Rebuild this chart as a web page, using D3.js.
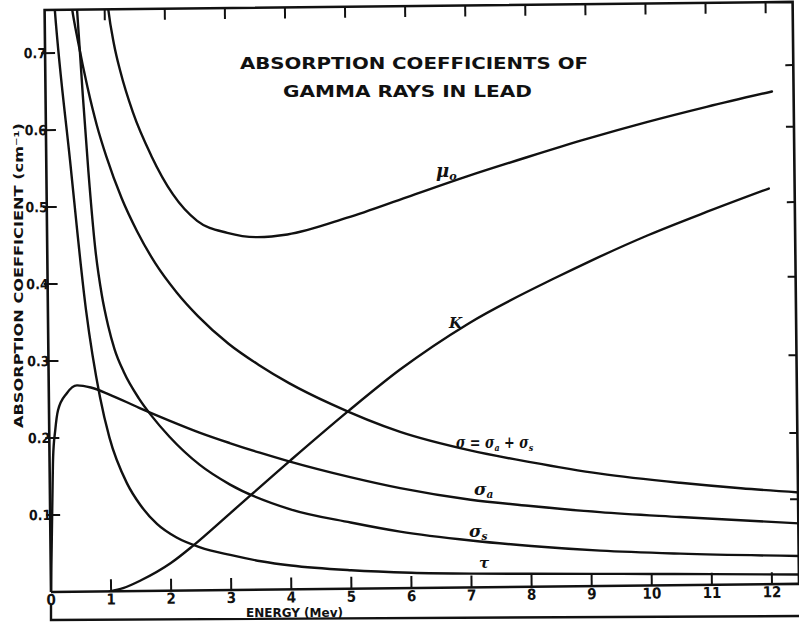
<!DOCTYPE html>
<html>
<head>
<meta charset="utf-8">
<script src="https://cdn.jsdelivr.net/npm/d3@7"></script>
<style>
  html, body { margin: 0; padding: 0; background: #fff; }
  svg { display: block; }
  text { font-family: "DejaVu Sans Condensed", "DejaVu Sans", "Liberation Sans", sans-serif; font-weight: bold; fill: #111; }
  .lbl { font-family: "DejaVu Serif", "Liberation Serif", serif; font-style: italic; font-weight: bold; }
</style>
</head>
<body>
<svg id="chart" width="799" height="624"></svg>
<script>
// Gamma-ray absorption coefficients in lead, energy in MeV, coefficients in cm^-1
const xTicks = [0, 1, 2, 3, 4, 5, 6, 7, 8, 9, 10, 11, 12];
const yTicks = [0.1, 0.2, 0.3, 0.4, 0.5, 0.6, 0.7];
const yTickLabels = ["0.1", "0.2", "0.3", "0.4", "0.5", "0.6", "0.7"];
const rightTicks = [0.11, 0.196, 0.297, 0.399, 0.496, 0.594, 0.674];

// total absorption coefficient
const muTotal = [[1.03, 0.78], [1.06, 0.756], [1.15, 0.71], [1.25, 0.675], [1.45, 0.622], [1.75, 0.565],
  [2.1, 0.515], [2.5, 0.48], [3.0, 0.464], [3.5, 0.458], [4, 0.461], [5, 0.482], [6, 0.508],
  [7, 0.534], [8, 0.558], [9, 0.581], [10, 0.602], [11, 0.621], [12.09, 0.64]];
// pair production
const kappa = [[0.98, 0.0], [1.2, 0.004], [1.5, 0.014], [2.0, 0.036], [2.37, 0.058], [3, 0.1],
  [4, 0.167], [5, 0.232], [5.85, 0.284], [7, 0.343], [8.48, 0.402], [9, 0.421], [10, 0.455],
  [11, 0.485], [12.02, 0.514]];
// Compton total
const sigmaTotal = [[0.42, 0.78], [0.46, 0.756], [0.55, 0.715], [0.7, 0.655], [0.85, 0.605], [1.0, 0.565],
  [1.25, 0.51], [1.5, 0.467], [1.8, 0.425], [2.15, 0.387], [2.5, 0.356], [3, 0.32], [3.5, 0.292],
  [4, 0.268], [4.7, 0.24], [5.84, 0.203], [7, 0.178], [8, 0.162], [9.16, 0.146],
  [10.49, 0.133], [11.5, 0.125], [12.6, 0.118]];
// Compton true absorption
const sigmaA = [[0.0, 0.0], [0.02, 0.06], [0.04, 0.12], [0.06, 0.175], [0.1, 0.21], [0.15, 0.236],
  [0.3, 0.258], [0.47, 0.268], [0.7, 0.265], [1.0, 0.256], [1.5, 0.238], [2, 0.221], [2.5, 0.205],
  [3, 0.191], [3.5, 0.178], [4, 0.166], [5, 0.145], [5.83, 0.13], [7, 0.114], [8, 0.105],
  [9.15, 0.096], [10.48, 0.0886], [12.6, 0.078]];
// Compton scattering
const sigmaS = [[0.52, 0.78], [0.54, 0.756], [0.62, 0.645], [0.7, 0.545], [0.8, 0.445], [0.9, 0.385],
  [1.0, 0.345], [1.1, 0.315], [1.25, 0.285], [1.5, 0.25], [1.7, 0.228], [2, 0.2], [2.5, 0.163],
  [3, 0.137], [4, 0.104], [5, 0.086], [5.82, 0.0735], [7, 0.061], [8, 0.053], [9.15, 0.046],
  [10.48, 0.041], [12.6, 0.036]];
// photoelectric
const tau = [[0.15, 0.78], [0.17, 0.756], [0.395, 0.561], [0.634, 0.366], [0.85, 0.253], [1.0, 0.2],
  [1.285, 0.14], [1.5, 0.112], [1.776, 0.087], [2.1, 0.069], [2.49, 0.056], [2.99, 0.0456],
  [3.5, 0.037], [4, 0.031], [5, 0.024], [6, 0.02], [7, 0.018], [8, 0.017], [9, 0.016],
  [10, 0.015], [11, 0.014], [12.6, 0.012]];

const svg = d3.select("#chart");
const W = 748, H = 582;          // plot width / height

const x = d3.scaleLinear().domain([0, 12.45]).range([0, W]);
const y = d3.scaleLinear().domain([0, 0.756]).range([0, -H]);

// the plotting frame sits slightly skewed on the sheet
const g = svg.append("g").attr("transform", "matrix(1,-0.0108,0.011,1,51,592)");

g.append("clipPath").attr("id", "plotClip")
  .append("rect").attr("x", 0).attr("y", -H).attr("width", W).attr("height", H);

// frame
g.append("path")
  .attr("d", `M0,0 V${-H} H${W} V0`)
  .attr("fill", "none").attr("stroke", "#111").attr("stroke-width", 2.6);
g.append("line").attr("x1", 0).attr("x2", W + 6).attr("y1", 0).attr("y2", 0)
  .attr("stroke", "#111").attr("stroke-width", 2.6);

// bottom ticks + labels
const xAxis = g.append("g");
xAxis.selectAll("line.tk").data(xTicks.slice(1)).join("line")
  .attr("x1", d => x(d)).attr("x2", d => x(d)).attr("y1", 0).attr("y2", -12)
  .attr("stroke", "#111").attr("stroke-width", 2);
xAxis.selectAll("text").data(xTicks).join("text")
  .attr("x", d => x(d)).attr("y", 13).attr("text-anchor", "middle")
  .attr("font-size", 15).text(d => d);

// top ticks
g.selectAll("line.top").data(xTicks.slice(1)).join("line").attr("class", "top")
  .attr("x1", d => x(d)).attr("x2", d => x(d)).attr("y1", -H).attr("y2", -H + 11)
  .attr("stroke", "#111").attr("stroke-width", 2);

// left ticks + labels
g.selectAll("line.ly").data(yTicks).join("line").attr("class", "ly")
  .attr("x1", -4).attr("x2", 10).attr("y1", d => y(d)).attr("y2", d => y(d))
  .attr("stroke", "#111").attr("stroke-width", 2);
g.selectAll("text.ly").data(yTicks).join("text").attr("class", "ly")
  .attr("x", 1).attr("y", d => y(d) + 5).attr("text-anchor", "end")
  .attr("font-size", 14).text((d, i) => yTickLabels[i]);

// right ticks
g.selectAll("line.ry").data(rightTicks).join("line").attr("class", "ry")
  .attr("x1", W - 8).attr("x2", W).attr("y1", d => y(d)).attr("y2", d => y(d))
  .attr("stroke", "#111").attr("stroke-width", 2);

// curves
const line = d3.line().x(d => x(d[0])).y(d => y(d[1])).curve(d3.curveMonotoneX);
const curves = g.append("g").attr("clip-path", "url(#plotClip)");
[muTotal, kappa, sigmaTotal, sigmaA, sigmaS, tau].forEach(s => {
  curves.append("path").attr("d", line(s))
    .attr("fill", "none").attr("stroke", "#111").attr("stroke-width", 2.4)
    .attr("stroke-linejoin", "round").attr("stroke-linecap", "round");
});

// bracket line under the energy axis
svg.append("path").attr("d", "M51,605 V620 L799,616")
  .attr("fill", "none").attr("stroke", "#111").attr("stroke-width", 2.4);

// titles
svg.append("text").attr("x", 240).attr("y", 69).attr("font-size", 16)
  .attr("textLength", 348).attr("lengthAdjust", "spacingAndGlyphs")
  .text("ABSORPTION  COEFFICIENTS OF");
svg.append("text").attr("x", 283).attr("y", 97).attr("font-size", 16)
  .attr("textLength", 249).attr("lengthAdjust", "spacingAndGlyphs")
  .text("GAMMA RAYS IN LEAD");

svg.append("text").attr("x", 246).attr("y", 617).attr("font-size", 12)
  .attr("textLength", 97).attr("lengthAdjust", "spacingAndGlyphs")
  .text("ENERGY (Mev)");

svg.append("text").attr("transform", "translate(23,428) rotate(-90)").attr("font-size", 12)
  .attr("textLength", 305).attr("lengthAdjust", "spacingAndGlyphs")
  .text("ABSORPTION COEFFICIENT (cm⁻¹)");

// curve labels
const lab = (tx, ty, size, main, sub) => {
  const t = svg.append("text").attr("class", "lbl").attr("x", tx).attr("y", ty).attr("font-size", size);
  t.append("tspan").text(main);
  if (sub) t.append("tspan").attr("font-size", size * 0.62).attr("dy", 3).text(sub);
  return t;
};
lab(436, 177, 18, "μ", "o");
lab(449, 328, 15, "K");
const sg = svg.append("g").attr("transform", "translate(456,448) scale(0.8,1)")
  .append("text").attr("class", "lbl").attr("font-size", 16);
sg.append("tspan").text("σ = σ");
sg.append("tspan").attr("font-size", 10).attr("dy", 3).text("a");
sg.append("tspan").attr("dy", -3).text(" + σ");
sg.append("tspan").attr("font-size", 10).attr("dy", 3).text("s");
lab(474, 495, 17, "σ", "a");
lab(469, 537, 17, "σ", "s");
lab(479, 568, 15, "τ");
</script>
</body>
</html>
